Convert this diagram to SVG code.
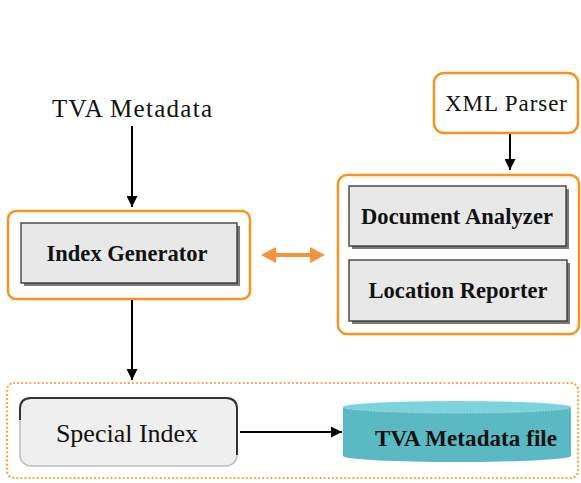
<svg xmlns="http://www.w3.org/2000/svg" width="581" height="483" viewBox="0 0 581 483">
  <defs>
    <style>
      .group { fill: #ffffff; stroke: #f7931e; stroke-width: 2.5; }
      .module { fill: #e8e8e8; stroke: #333333; stroke-width: 1.3; }
      .shadow { fill: #7a7a7a; }
      .bold { font-family: 'Liberation Serif', 'Times New Roman', serif; font-weight: bold; fill: #111111; text-anchor: middle; }
      .plain { font-family: 'Liberation Serif', 'Times New Roman', serif; fill: #111111; text-anchor: middle; }
      .wire { stroke: #000000; stroke-width: 2; fill: none; }
    </style>
    <marker id="head" viewBox="0 0 10 10" refX="10" refY="5" markerWidth="11" markerHeight="11" markerUnits="userSpaceOnUse" orient="auto">
      <path d="M0,0 L10,5 L0,10 z" fill="#000000"/>
    </marker>
  </defs>

  <!-- input label -->
  <g id="tva-metadata">
    <text class="plain" x="132" y="117" font-size="25" textLength="160" lengthAdjust="spacing">TVA Metadata</text>
  </g>

  <!-- index generator -->
  <g id="index-generator">
    <rect class="group" x="8" y="211" width="242" height="88" rx="8"/>
    <rect class="shadow" x="24" y="226" width="216" height="60"/>
    <rect class="module" x="21" y="223" width="216" height="60"/>
    <text class="bold" x="127" y="261" font-size="22.5" textLength="161" lengthAdjust="spacing">Index Generator</text>
  </g>

  <!-- xml parser -->
  <g id="xml-parser">
    <rect class="group" x="434" y="73" width="144" height="60" rx="10"/>
    <text class="plain" x="506" y="111" font-size="23" textLength="122" lengthAdjust="spacing">XML Parser</text>
  </g>

  <!-- analyzer group -->
  <g id="analyzer">
    <rect class="group" x="338" y="175" width="241" height="159" rx="9"/>
    <g id="document-analyzer">
      <rect class="shadow" x="352" y="189" width="217" height="60"/>
      <rect class="module" x="349" y="186" width="217" height="60"/>
      <text class="bold" x="457" y="224" font-size="22.5" textLength="192" lengthAdjust="spacing">Document Analyzer</text>
    </g>
    <g id="location-reporter">
      <rect class="shadow" x="352" y="263" width="218" height="61"/>
      <rect class="module" x="349" y="260" width="218" height="61"/>
      <text class="bold" x="458" y="298" font-size="22.5" textLength="179" lengthAdjust="spacing">Location Reporter</text>
    </g>
  </g>

  <!-- storage group -->
  <g id="storage">
    <rect x="7" y="383" width="571" height="95" rx="7" fill="none" stroke="#f7a032" stroke-width="2.2" stroke-dasharray="0.1 4" stroke-linecap="round"/>
    <g id="special-index">
      <rect x="20" y="398" width="217" height="68" rx="11" fill="#efefef" stroke="#bdbdbd" stroke-width="1.5"/>
      <path d="M20,420 L20,409 Q20,398 31,398 L226,398 Q237,398 237,409 L237,455" fill="none" stroke="#333333" stroke-width="2"/>
      <text class="plain" x="127" y="442" font-size="26">Special Index</text>
    </g>
    <g id="tva-metadata-file">
      <path d="M343,407 L343,456 A114,6 0 0 0 571,456 L571,407 Z" fill="#5ab9c2"/>
      <ellipse cx="457" cy="407" rx="114" ry="6" fill="#7dd3db" stroke="#c8eef0" stroke-width="1" stroke-dasharray="1 2"/>
      <text class="bold" x="466" y="446" font-size="23" textLength="182" lengthAdjust="spacing">TVA Metadata file</text>
    </g>
  </g>

  <!-- connectors -->
  <g id="connectors">
    <line class="wire" x1="132" y1="126" x2="132" y2="207" marker-end="url(#head)"/>
    <line class="wire" x1="510" y1="134" x2="510" y2="170" marker-end="url(#head)"/>
    <line class="wire" x1="132" y1="300" x2="132" y2="380" marker-end="url(#head)"/>
    <line class="wire" x1="240" y1="432" x2="342" y2="432" marker-end="url(#head)"/>
    <path d="M261,255 L276,247 L276,253 L310,253 L310,247 L325,255 L310,263 L310,257 L276,257 L276,263 Z" fill="#f7923a"/>
  </g>
</svg>
